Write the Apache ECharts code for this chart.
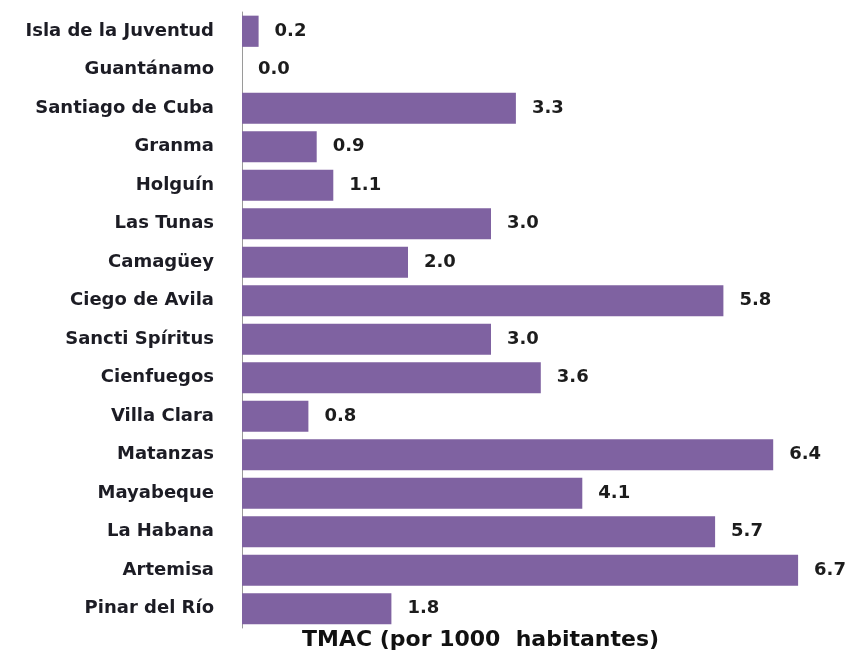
<!DOCTYPE html>
<html>
<head>
<meta charset="utf-8">
<script src="https://cdn.jsdelivr.net/npm/echarts@6/dist/echarts.min.js"></script>
<style>
html,body{margin:0;padding:0;background:#fff;}
#chart{width:853px;height:664px;}
</style>
</head>
<body>
<div id="chart"></div>
<script>
// Provinces listed top to bottom
const provinces = [
  'Isla de la Juventud', 'Guantánamo', 'Santiago de Cuba', 'Granma', 'Holguín',
  'Las Tunas', 'Camagüey', 'Ciego de Avila', 'Sancti Spíritus', 'Cienfuegos',
  'Villa Clara', 'Matanzas', 'Mayabeque', 'La Habana', 'Artemisa', 'Pinar del Río'
];
const tmac = [0.2, 0.0, 3.3, 0.9, 1.1, 3.0, 2.0, 5.8, 3.0, 3.6, 0.8, 6.4, 4.1, 5.7, 6.7, 1.8];
const axisTitle = 'TMAC (por 1000  habitantes)';

const font = '"DejaVu Sans", sans-serif';
const chart = echarts.init(document.getElementById('chart'));
chart.setOption({
  backgroundColor: '#fff',
  animation: false,
  grid: { left: 242, top: 12, width: 581, height: 616 },
  xAxis: {
    type: 'value', min: 0, max: 7,
    show: false
  },
  yAxis: {
    type: 'category',
    data: provinces,
    inverse: true,
    axisLine: { show: true, lineStyle: { color: '#9a9a9a', width: 1 } },
    axisTick: { show: false },
    axisLabel: {
      margin: 28, color: '#1c1c24', fontFamily: font, fontWeight: 'bold', fontSize: 18
    }
  },
  graphic: [{
    type: 'text', left: 302, top: 629,
    style: { text: axisTitle, fill: '#111', font: 'bold 22px ' + font }
  }],
  series: [{
    type: 'bar',
    data: tmac,
    barCategoryGap: '19%',
    itemStyle: { color: '#7F62A1' },
    label: {
      show: true, position: 'right', distance: 16,
      color: '#1c1c1c', fontFamily: font, fontWeight: 'bold', fontSize: 18,
      formatter: p => p.value.toFixed(1)
    }
  }]
});
</script>
</body>
</html>
